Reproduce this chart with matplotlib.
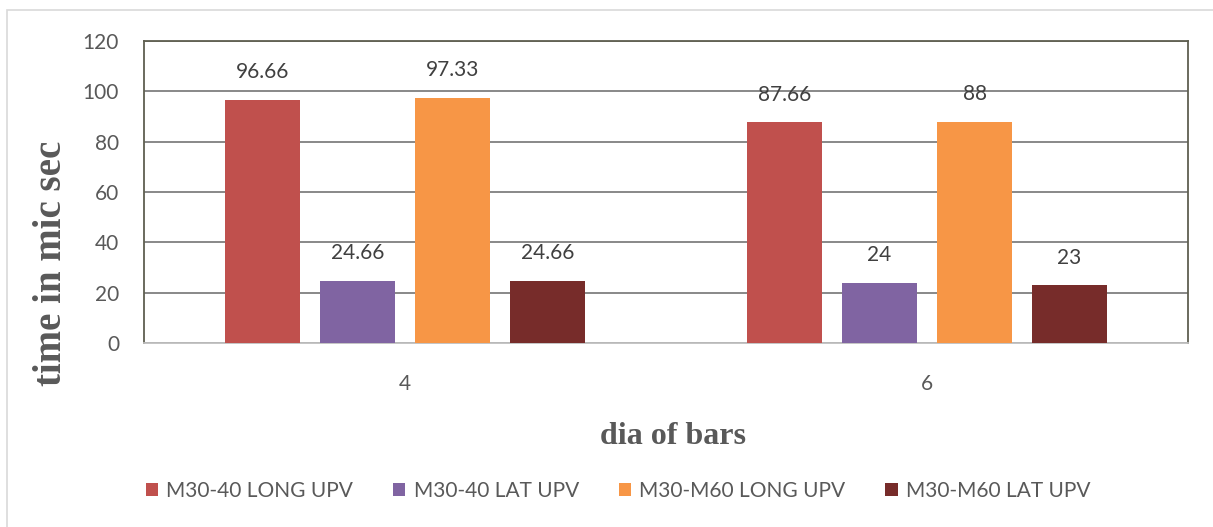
import numpy as np
import matplotlib.pyplot as plt
from matplotlib.patches import Rectangle

# data
categories = ['4', '6']
series_names = ['M30-40 LONG UPV', 'M30-40 LAT UPV', 'M30-M60 LONG UPV', 'M30-M60 LAT UPV']
long_m30_40 = [96.66, 87.66]
lat_m30_40 = [24.66, 24]
long_m30_m60 = [97.33, 88]
lat_m30_m60 = [24.66, 23]
label_texts = [['96.66', '87.66'], ['24.66', '24'], ['97.33', '88'], ['24.66', '23']]
colors = ['#c0504d', '#8064a2', '#f79646', '#772c2a']

plt.rcParams['font.family'] = ['Lato', 'DejaVu Sans']

fig = plt.figure(figsize=(12.13, 5.27), dpi=100)
ax = fig.add_axes([144 / 1213, 1 - 343 / 527, 1044 / 1213, 302 / 527])

# light outer border of the chart area
fig.patches.append(Rectangle((7 / 1213, -0.1), 1.2, 1 - 10 / 527 + 0.1,
                             transform=fig.transFigure, fill=False,
                             edgecolor='#d9d9d9', linewidth=1.2))

x = np.arange(len(categories))
pitch = 0.182
width = 0.144
all_series = [long_m30_40, lat_m30_40, long_m30_m60, lat_m30_m60]
for i, vals in enumerate(all_series):
    pos = x + (i - 1.5) * pitch
    bars = ax.bar(pos, vals, width, color=colors[i], label=series_names[i], zorder=3)
    for b, t in zip(bars, label_texts[i]):
        ax.text(b.get_x() + b.get_width() / 2, b.get_height() + 7, t,
                ha='center', va='bottom', fontsize=15, color='#404040')

ax.set_xlim(-0.5, 1.5)
ax.set_ylim(0, 120)
ax.set_yticks(range(0, 121, 20))
ax.set_xticks(x)
ax.set_xticklabels(categories)
ax.tick_params(length=0, labelsize=15, colors='#595959')
ax.tick_params(axis='y', pad=18)
ax.tick_params(axis='x', pad=22)
ax.yaxis.grid(True, color='#7f7f7f', linewidth=1.3, zorder=0)
ax.set_axisbelow(True)
for s in ['left', 'top', 'right']:
    ax.spines[s].set_color('#5f5f50')
    ax.spines[s].set_linewidth(1.3)
ax.spines['bottom'].set_color('#bfbfbf')
ax.spines['bottom'].set_linewidth(1.3)

fig.text(52 / 1213, 1 - 263 / 527, 'time in mic sec', rotation=90,
         ha='center', va='center', fontsize=28, fontweight='bold',
         family='Liberation Serif', color='#595959')
fig.text(673 / 1213, 1 - 437 / 527, 'dia of bars', ha='center', va='center',
         fontsize=23, fontweight='bold', family='Liberation Serif', color='#595959')

fig.legend(loc='center', bbox_to_anchor=(618 / 1213, 1 - 491 / 527), ncol=4,
           frameon=False, fontsize=15, handlelength=0.6, handleheight=0.6,
           handletextpad=0.4, columnspacing=1.9, labelcolor='#595959')

fig.savefig('out.png', dpi=100)
